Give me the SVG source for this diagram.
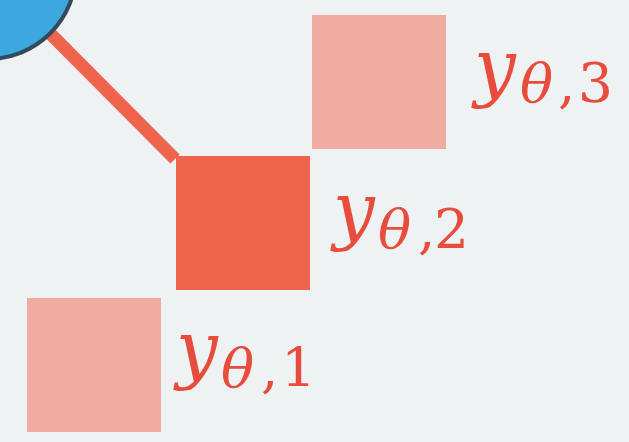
<svg xmlns="http://www.w3.org/2000/svg" width="629" height="442" viewBox="0 0 629 442">
<defs>
<style>
.light{fill:#f0aca0}
.dark{fill:#ef644c}
</style>
</defs>
<rect width="629" height="442" fill="#eef2f3"/>
<g id="connectors">
<line x1="-12" y1="-29" x2="175" y2="159" stroke="#ef644c" stroke-width="13"/>
</g>
<g id="root">
<circle cx="-12" cy="-29" r="88" fill="#3ba8e0" stroke="#34495e" stroke-width="4"/>
</g>
<g id="y3" font-family="DejaVu Serif" fill="#e74c3c" font-size="55">
<rect class="light" x="312" y="15" width="134" height="134"/>
<text font-style="italic" font-size="74" x="474" y="92">y</text>
<text font-style="italic" x="520" y="102">θ</text>
<text x="558" y="102">,</text>
<text x="578" y="102">3</text>
</g>
<g id="y2" font-family="DejaVu Serif" fill="#e74c3c" font-size="55">
<rect class="dark" x="176" y="156" width="134" height="134"/>
<text font-style="italic" font-size="74" x="333" y="235">y</text>
<text font-style="italic" x="378" y="248">θ</text>
<text x="418" y="248">,</text>
<text x="434" y="248">2</text>
</g>
<g id="y1" font-family="DejaVu Serif" fill="#e74c3c" font-size="55">
<rect class="light" x="27" y="298" width="134" height="134"/>
<text font-style="italic" font-size="74" x="176" y="374">y</text>
<text font-style="italic" x="221" y="387">θ</text>
<text x="261" y="387">,</text>
<text x="281" y="387">1</text>
</g>
</svg>
